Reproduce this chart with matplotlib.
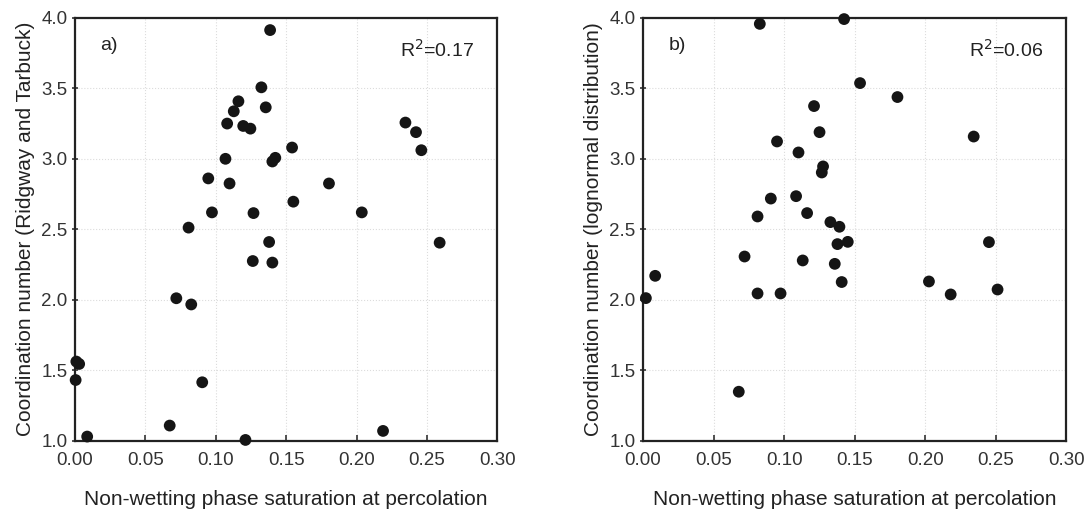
import matplotlib
matplotlib.use("Agg")
import matplotlib.pyplot as plt

plt.rcParams['font.family'] = ['Liberation Sans', 'DejaVu Sans']

# Panel a: coordination number after Ridgway and Tarbuck
sat_a = [0.1386, 0.1324, 0.1161, 0.1128, 0.1355, 0.1081, 0.1195, 0.1246,
         0.1542, 0.1069, 0.1423, 0.1402, 0.0947, 0.1098, 0.1804, 0.1551,
         0.0973, 0.1268, 0.2037, 0.0807, 0.1379, 0.2590, 0.2347, 0.2422,
         0.2460, 0.1263, 0.1402, 0.0720, 0.0826, 0.0010, 0.0030, 0.0005,
         0.0904, 0.0673, 0.0087, 0.1211, 0.2188]
coord_a = [3.913, 3.507, 3.408, 3.337, 3.365, 3.250, 3.233, 3.214,
           3.080, 3.000, 3.007, 2.981, 2.861, 2.825, 2.825, 2.696,
           2.620, 2.615, 2.620, 2.512, 2.410, 2.405, 3.257, 3.189,
           3.061, 2.275, 2.264, 2.011, 1.967, 1.562, 1.545, 1.431,
           1.415, 1.108, 1.030, 1.006, 1.070]

# Panel b: coordination number from the lognormal distribution
sat_b = [0.0828, 0.1425, 0.1538, 0.1803, 0.1212, 0.1251, 0.0950, 0.2343,
         0.1102, 0.1276, 0.1267, 0.0906, 0.1085, 0.0812, 0.1163, 0.1328,
         0.1392, 0.1378, 0.1451, 0.2451, 0.0720, 0.1132, 0.1359, 0.0087,
         0.1408, 0.2026, 0.0812, 0.0975, 0.2180, 0.2512, 0.0021, 0.0679]
coord_b = [3.957, 3.991, 3.537, 3.438, 3.374, 3.189, 3.123, 3.158,
           3.045, 2.946, 2.903, 2.718, 2.735, 2.591, 2.615, 2.551,
           2.518, 2.395, 2.411, 2.409, 2.307, 2.279, 2.255, 2.170,
           2.126, 2.130, 2.045, 2.045, 2.038, 2.073, 2.012, 1.348]

panel_tags = ["a)", "b)"]
r2_labels = ["R$^2$=0.17", "R$^2$=0.06"]
y_labels = ["Coordination number (Ridgway and Tarbuck)",
            "Coordination number (lognormal distribution)"]
x_label = "Non-wetting phase saturation at percolation"
x_ticks = [0.00, 0.05, 0.10, 0.15, 0.20, 0.25, 0.30]
y_ticks = [1.0, 1.5, 2.0, 2.5, 3.0, 3.5, 4.0]

fig = plt.figure(figsize=(10.86, 5.09), dpi=100)
ax_a = fig.add_axes([0.069, 0.134, 0.389, 0.831])
ax_b = fig.add_axes([0.592, 0.134, 0.390, 0.831])

for ax, xs, ys, tag, r2, ylab in zip((ax_a, ax_b), (sat_a, sat_b),
                                     (coord_a, coord_b), panel_tags,
                                     r2_labels, y_labels):
    ax.scatter(xs, ys, s=72, color="#151515", edgecolors="none",
               zorder=3, clip_on=False)
    ax.set_xlim(0, 0.30)
    ax.set_ylim(1.0, 4.0)
    ax.set_xticks(x_ticks)
    ax.set_yticks(y_ticks)
    ax.set_xticklabels([f"{v:.2f}" for v in x_ticks])
    ax.set_yticklabels([f"{v:.1f}" for v in y_ticks])
    ax.grid(True, color="#dcdcdc", linewidth=0.8, linestyle=":")
    ax.set_axisbelow(True)
    ax.tick_params(axis="x", direction="in", length=4, width=1.2,
                   labelsize=13.5, pad=8, colors="#333333")
    ax.tick_params(axis="y", direction="inout", length=5, width=1.2,
                   labelsize=13.5, pad=3, colors="#333333")
    for sp in ax.spines.values():
        sp.set_linewidth(1.6)
        sp.set_color("#222222")
    ax.set_xlabel(x_label, fontsize=15, color="#222222", labelpad=15)
    ax.set_ylabel(ylab, fontsize=15, color="#222222", labelpad=4)
    ax.text(0.06, 0.935, tag, transform=ax.transAxes, fontsize=14,
            ha="left", va="center", color="#222222")
    ax.text(0.945, 0.925, r2, transform=ax.transAxes, fontsize=14,
            ha="right", va="center", color="#222222")

fig.savefig("out.png", dpi=100)
